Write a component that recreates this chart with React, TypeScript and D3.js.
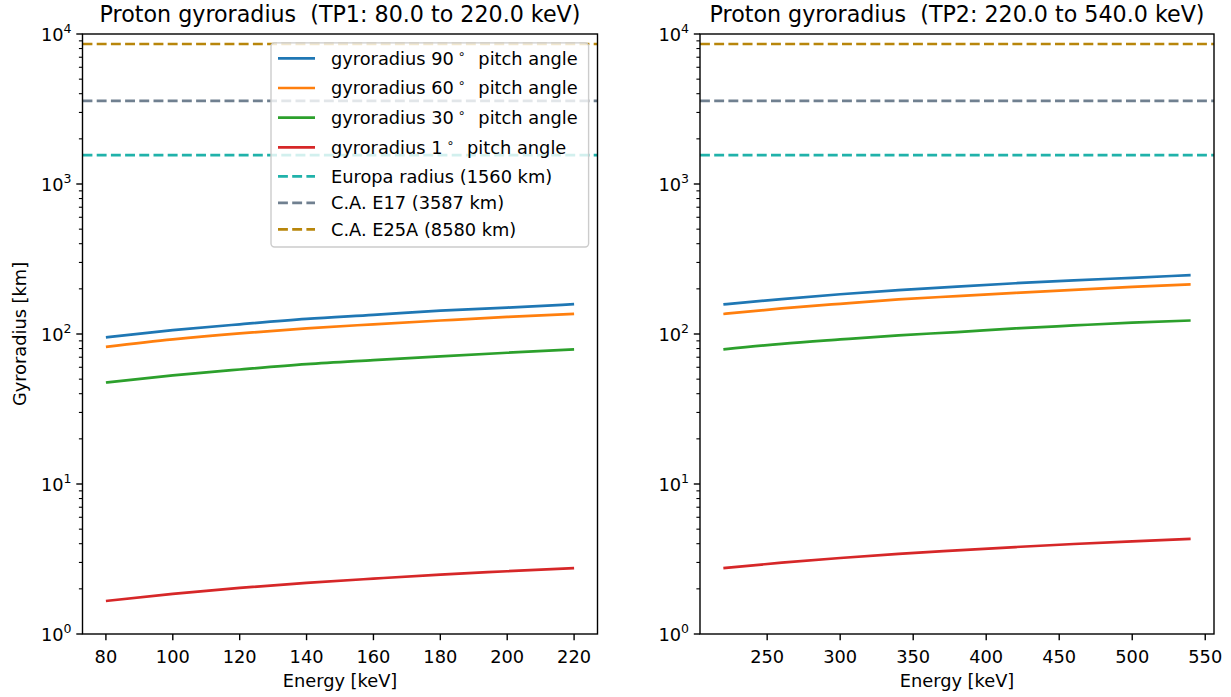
import React from 'react';
import * as d3 from 'd3';

// energy grids [keV]
const energyTP1 = [80, 100, 120, 140, 160, 180, 200, 220];
const energyTP2 = [220, 260, 300, 340, 380, 420, 460, 500, 540];

// gyroradius [km]
const tp1_90 = [95, 106, 116, 126, 134, 143, 150, 158];
const tp1_60 = [82, 92, 101, 109, 116, 123, 130, 136];
const tp1_30 = [47.5, 53, 58, 63, 67, 71, 75, 79];
const tp1_1 = [1.66, 1.85, 2.03, 2.19, 2.34, 2.49, 2.62, 2.75];

const tp2_90 = [157.5, 171, 184, 196, 207, 218, 228, 237, 247];
const tp2_60 = [136, 148, 159, 170, 179, 188, 197, 206, 214];
const tp2_30 = [79, 86, 92, 98, 103, 109, 114, 119, 123];
const tp2_1 = [2.75, 2.99, 3.21, 3.42, 3.61, 3.8, 3.98, 4.15, 4.31];

const pitchLabels = ['90', '60', '30', '1'];
const pitchColors = ['#1f77b4', '#ff7f0e', '#2ca02c', '#d62728'];

const refNames = ['Europa radius (1560 km)', 'C.A. E17 (3587 km)', 'C.A. E25A (8580 km)'];
const refValues = [1560, 3587, 8580];
const refColors = ['#20b2aa', '#708090', '#b8860b'];

const xTicksTP1 = [80, 100, 120, 140, 160, 180, 200, 220];
const xTicksTP2 = [250, 300, 350, 400, 450, 500, 550];
const yDecades = [0, 1, 2, 3, 4];

const FONT = 'DejaVu Sans, sans-serif';
const FS = 17.8;
const TOP = 34;
const BOTTOM = 634;

type PanelProps = {
  left: number;
  right: number;
  title: string;
  energy: number[];
  series: number[][];
  xTicks: number[];
  showYLabel: boolean;
  showLegend: boolean;
};

const Panel = ({ left, right, title, energy, series, xTicks, showYLabel, showLegend }: PanelProps) => {
  const e0 = energy[0];
  const e1 = energy[energy.length - 1];
  const pad = (e1 - e0) * 0.05;
  const x = d3.scaleLinear().domain([e0 - pad, e1 + pad]).range([left, right]);
  const y = d3.scaleLog().domain([1, 1e4]).range([BOTTOM, TOP]);
  const minor = y.ticks().filter(v => !yDecades.some(d => Math.abs(v - Math.pow(10, d)) < 1e-9));

  const line = d3.line<[number, number]>()
    .x(d => x(d[0]))
    .y(d => y(d[1]))
    .curve(d3.curveMonotoneX);

  const legendLeft = 271;
  const legendRight = right - 8.9;
  const legendTop = TOP + 8.9;
  const legendBottom = 247;
  const rowY = (i: number) => (i < 4 ? 58.3 + i * 29.7 : 176.3 + (i - 4) * 26.5);

  return (
    <g>
      <text x={(left + right) / 2} y={22} textAnchor="middle" fontSize={22.2} fontFamily={FONT}
        style={{ whiteSpace: 'pre' }}>{title}</text>

      {series.map((s, i) => (
        <path key={'s' + i} d={line(energy.map((e, j) => [e, s[j]] as [number, number])) || ''}
          fill="none" stroke={pitchColors[i]} strokeWidth={2.7} />
      ))}
      {refValues.map((v, i) => (
        <line key={'r' + i} x1={left} x2={right} y1={y(v)} y2={y(v)}
          stroke={refColors[i]} strokeWidth={2.7} strokeDasharray="9.9,4.3" />
      ))}

      {/* axes frame */}
      <rect x={left} y={TOP} width={right - left} height={BOTTOM - TOP} fill="none" stroke="#000" strokeWidth={1.4} />

      {/* y ticks */}
      {yDecades.map(d => (
        <g key={'yd' + d}>
          <line x1={left - 6.2} x2={left} y1={y(Math.pow(10, d))} y2={y(Math.pow(10, d))} stroke="#000" strokeWidth={1.4} />
          <text x={left - 11} y={y(Math.pow(10, d)) + 6.5} textAnchor="end" fontSize={FS} fontFamily={FONT}>
            10<tspan dy={-8} fontSize={12.5}>{d}</tspan>
          </text>
        </g>
      ))}
      {minor.map((v, i) => (
        <line key={'ym' + i} x1={left - 3.6} x2={left} y1={y(v)} y2={y(v)} stroke="#000" strokeWidth={1.1} />
      ))}

      {/* x ticks */}
      {xTicks.map(t => (
        <g key={'xt' + t}>
          <line x1={x(t)} x2={x(t)} y1={BOTTOM} y2={BOTTOM + 6.2} stroke="#000" strokeWidth={1.4} />
          <text x={x(t)} y={BOTTOM + 29} textAnchor="middle" fontSize={FS} fontFamily={FONT}>{t}</text>
        </g>
      ))}
      <text x={(left + right) / 2} y={687} textAnchor="middle" fontSize={FS} fontFamily={FONT}>Energy [keV]</text>

      {showYLabel && (
        <text transform={`translate(26,${(TOP + BOTTOM) / 2}) rotate(-90)`} textAnchor="middle" fontSize={FS} fontFamily={FONT}>Gyroradius [km]</text>
      )}

      {showLegend && (
        <g>
          <rect x={legendLeft} y={legendTop} width={legendRight - legendLeft} height={legendBottom - legendTop}
            rx={3.5} fill="#fff" fillOpacity={0.8} stroke="#cccccc" strokeWidth={1.4} />
          {pitchLabels.map((p, i) => (
            <g key={'lg' + i}>
              <line x1={278} x2={315} y1={rowY(i)} y2={rowY(i)} stroke={pitchColors[i]} strokeWidth={2.7} />
              <text x={331} y={rowY(i) + 6.3} fontSize={FS} fontFamily={FONT} style={{ whiteSpace: 'pre' }}>
                {'gyroradius ' + p}
                <tspan dx={4} dy={-7} fontSize={12.5}>{'\u2218'}</tspan>
                <tspan dx={7} dy={7}>{' pitch angle'}</tspan>
              </text>
            </g>
          ))}
          {refNames.map((n, i) => (
            <g key={'lr' + i}>
              <line x1={278} x2={315} y1={rowY(i + 4)} y2={rowY(i + 4)} stroke={refColors[i]} strokeWidth={2.7} strokeDasharray="9.9,4.3" />
              <text x={331} y={rowY(i + 4) + 6.3} fontSize={FS} fontFamily={FONT}>{n}</text>
            </g>
          ))}
        </g>
      )}
    </g>
  );
};

const App = () => {
  return (
    <svg width={1231} height={697} style={{ position: 'absolute', left: 0, top: 0, background: '#fff' }}>
      <rect width={1231} height={697} fill="#fff" />
      <Panel left={82.5} right={597.5} title="Proton gyroradius  (TP1: 80.0 to 220.0 keV)"
        energy={energyTP1} series={[tp1_90, tp1_60, tp1_30, tp1_1]} xTicks={xTicksTP1}
        showYLabel={true} showLegend={true} />
      <Panel left={700} right={1214} title="Proton gyroradius  (TP2: 220.0 to 540.0 keV)"
        energy={energyTP2} series={[tp2_90, tp2_60, tp2_30, tp2_1]} xTicks={xTicksTP2}
        showYLabel={false} showLegend={false} />
    </svg>
  );
};

export default App;
